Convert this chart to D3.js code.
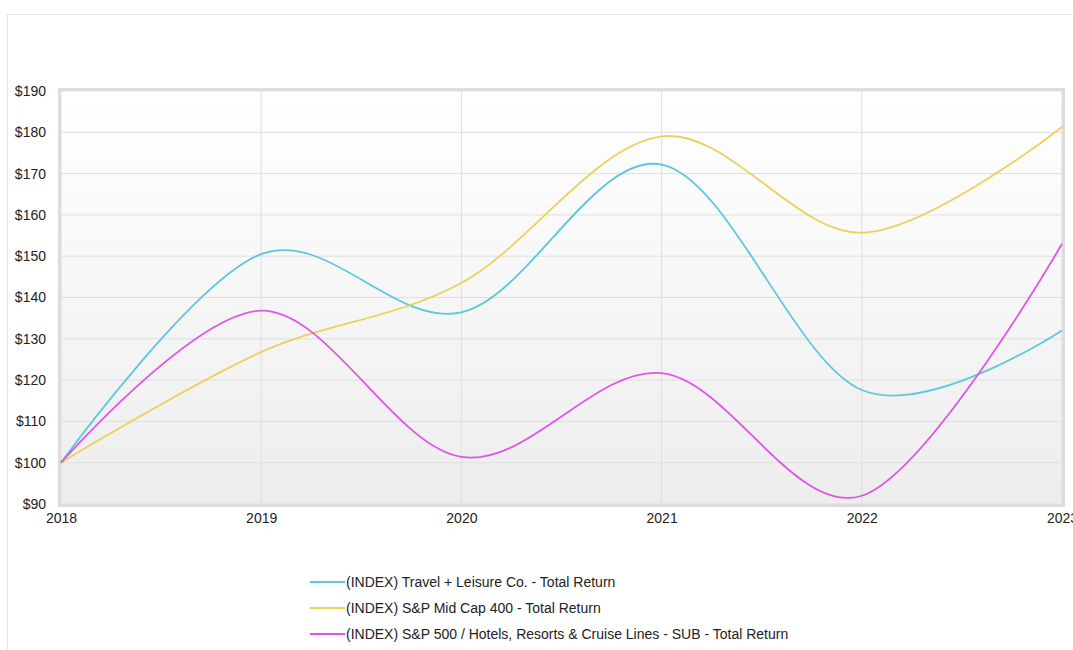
<!DOCTYPE html>
<html>
<head>
<meta charset="utf-8">
<script src="https://cdn.jsdelivr.net/npm/d3@7"></script>
<style>
  body { margin: 0; background: #fff; }
  text { font-family: Arial, "Liberation Sans", sans-serif; }
</style>
</head>
<body>
<div id="chart"></div>
<script>
// data
var years = [2018, 2019, 2020, 2021, 2022, 2023];
var travelLeisure = [100, 150.5, 136.4, 172.2, 117.6, 132];
var midCap400 = [100, 126.8, 143.5, 179, 155.7, 181.3];
var hotelsCruise = [100, 136.8, 101.4, 121.7, 92, 153];
var yTicks = [90, 100, 110, 120, 130, 140, 150, 160, 170, 180, 190];

var series = [
  { name: "(INDEX) Travel + Leisure Co. - Total Return", values: travelLeisure, color: "#5ac8dd" },
  { name: "(INDEX) S&P Mid Cap 400 - Total Return", values: midCap400, color: "#ebd157" },
  { name: "(INDEX) S&P 500 / Hotels, Resorts & Cruise Lines - SUB - Total Return", values: hotelsCruise, color: "#df55e6" }
];

var W = 1073, H = 650;
var margin = {top: 91, right: 11, bottom: 146, left: 61},
    width = W - margin.left - margin.right,
    height = H - margin.top - margin.bottom;

var root = d3.select("#chart").append("svg")
  .attr("width", W).attr("height", H);

// gradient background for plot
var defs = root.append("defs");
var grad = defs.append("linearGradient").attr("id", "bg").attr("x1", 0).attr("y1", 0).attr("x2", 0).attr("y2", 1);
grad.append("stop").attr("offset", "0%").attr("stop-color", "#ffffff");
grad.append("stop").attr("offset", "100%").attr("stop-color", "#ededed");

// outer frame
root.append("rect")
  .attr("x", 7.5).attr("y", 14.5).attr("width", W + 10).attr("height", H)
  .attr("fill", "none").attr("stroke", "#e6e6e6");

var svg = root.append("g")
  .attr("transform", "translate(" + margin.left + "," + margin.top + ")");

var x = d3.scaleLinear().domain([2018, 2023]).range([0, width]);
var y = d3.scaleLinear().domain([90, 190]).range([height, 0]);

svg.append("rect")
  .attr("width", width).attr("height", height)
  .attr("fill", "url(#bg)");

// grid
svg.selectAll(".hgrid").data(yTicks).enter().append("line")
  .attr("x1", 0).attr("x2", width)
  .attr("y1", function(d) { return y(d); }).attr("y2", function(d) { return y(d); })
  .attr("stroke", "#dedede").attr("stroke-width", 1);

svg.selectAll(".vgrid").data(years).enter().append("line")
  .attr("x1", function(d) { return x(d); }).attr("x2", function(d) { return x(d); })
  .attr("y1", 0).attr("y2", height)
  .attr("stroke", "#dedede").attr("stroke-width", 1);

// plot border
svg.append("rect")
  .attr("x", -1.5).attr("y", -1.5).attr("width", width + 3).attr("height", height + 3)
  .attr("fill", "none").attr("stroke", "#dcdcdc").attr("stroke-width", 3);

// axes
var yAxis = svg.append("g")
  .call(d3.axisLeft(y).tickValues(yTicks).tickSize(0).tickPadding(15).tickFormat(function(d) { return "$" + d; }));
yAxis.select(".domain").remove();
yAxis.selectAll("text").attr("font-size", "14px").attr("fill", "#222");

var xAxis = svg.append("g").attr("transform", "translate(0," + height + ")")
  .call(d3.axisBottom(x).tickValues(years).tickSize(0).tickPadding(9).tickFormat(d3.format("d")));
xAxis.select(".domain").remove();
xAxis.selectAll("text").attr("font-size", "14px").attr("fill", "#222");

// lines
var line = d3.line()
  .x(function(d, i) { return x(years[i]); })
  .y(function(d) { return y(d); })
  .curve(d3.curveCardinal.tension(0));

svg.selectAll(".series").data(series).enter().append("path")
  .attr("d", function(d) { return line(d.values); })
  .attr("fill", "none")
  .attr("stroke", function(d) { return d.color; })
  .attr("stroke-width", 1.8);

// legend
var legend = root.append("g").attr("transform", "translate(310,582)");
var item = legend.selectAll("g").data(series).enter().append("g")
  .attr("transform", function(d, i) { return "translate(0," + i * 26 + ")"; });
item.append("line")
  .attr("x1", 0).attr("x2", 35).attr("y1", 0).attr("y2", 0)
  .attr("stroke", function(d) { return d.color; }).attr("stroke-width", 2);
item.append("text")
  .attr("x", 36).attr("y", 0).attr("dy", "0.35em")
  .attr("font-size", "14px").attr("fill", "#222")
  .text(function(d) { return d.name; });
</script>
</body>
</html>
